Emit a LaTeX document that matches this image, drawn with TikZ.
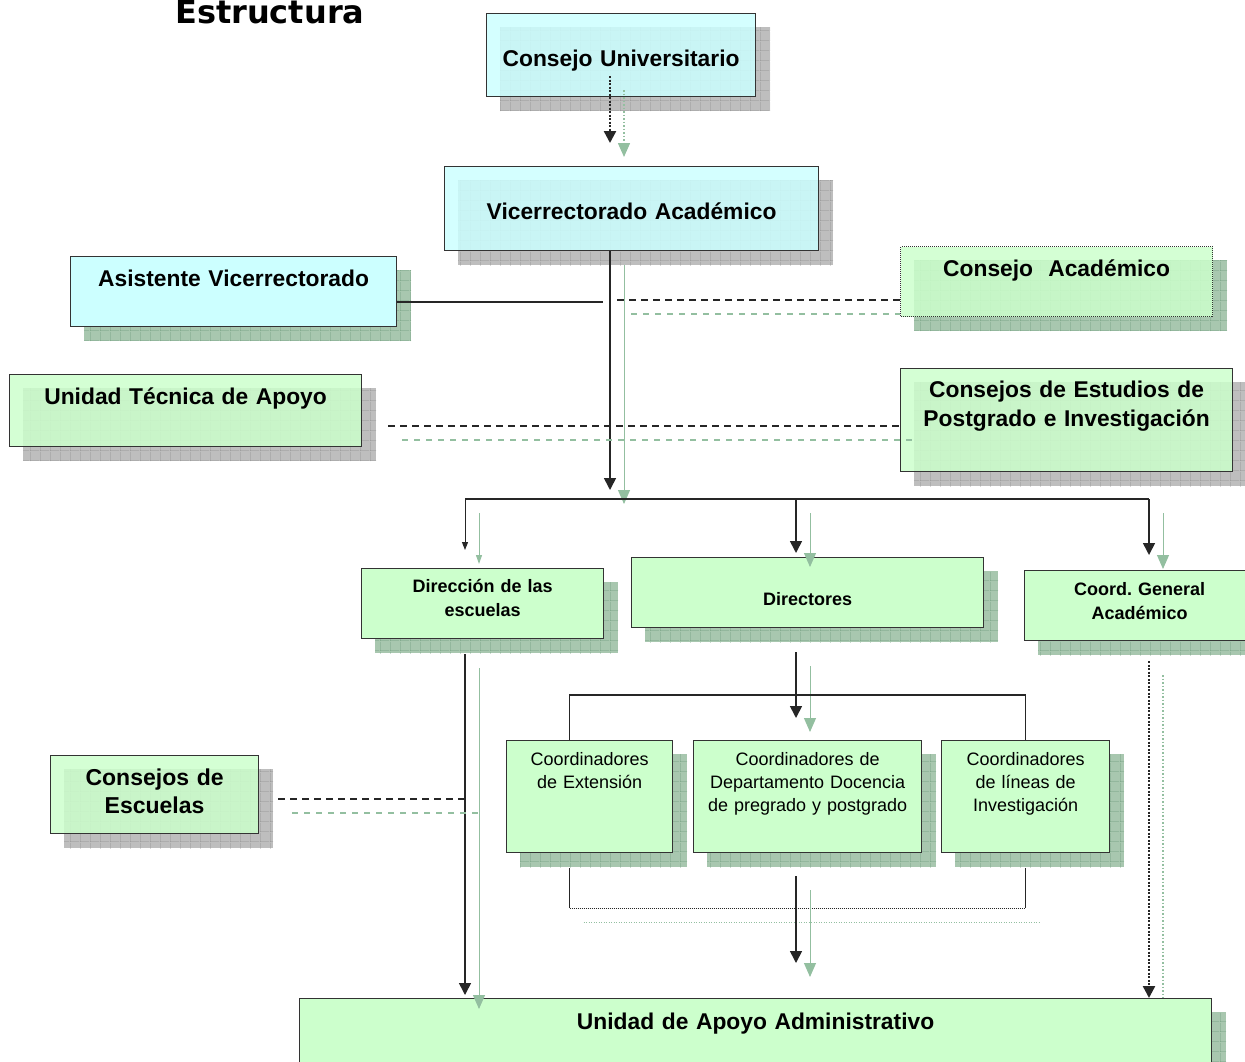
\documentclass[tikz,border=0pt]{standalone}
\usepackage{fontspec}
\setmainfont{Liberation Sans}
\newfontfamily\titlefont{DejaVu Sans}
\usetikzlibrary{arrows.meta}
\usetikzlibrary{backgrounds,patterns.meta}
\frenchspacing

\definecolor{cyanfill}{HTML}{CCFFFF}
\definecolor{greenfill}{HTML}{CCFFCC}
\definecolor{boxline}{HTML}{333333}
\definecolor{linecol}{HTML}{262626}
\definecolor{shadegray}{HTML}{BEBEBE}
\definecolor{shadegridgray}{HTML}{8E8E8E}
\definecolor{shadegreen}{HTML}{A8C7AF}
\definecolor{shadegridgreen}{HTML}{6F9C7C}
\definecolor{ghostgreen}{HTML}{93BFA0}

\tikzdeclarepattern{
  name=shadowgrid,
  type=uncolored,
  bounding box={(0pt,0pt) and (10pt,10pt)},
  tile size={(10pt,10pt)},
  code={
    \pgfsetlinewidth{0.8pt}
    \pgfpathmoveto{\pgfqpoint{0pt}{0pt}}
    \pgfpathlineto{\pgfqpoint{10pt}{0pt}}
    \pgfpathmoveto{\pgfqpoint{0pt}{0pt}}
    \pgfpathlineto{\pgfqpoint{0pt}{10pt}}
    \pgfusepath{stroke}
  }
}

\newcommand{\bigbf}{\fontsize{22.8}{29}\selectfont\bfseries}
\newcommand{\escbf}{\fontsize{23}{28}\selectfont\bfseries}
\newcommand{\midbf}{\fontsize{18}{24}\selectfont\bfseries}
\newcommand{\midrm}{\fontsize{18}{23}\selectfont}

\tikzset{
  unit/.style={draw=boxline, line width=1.2pt, anchor=north west,
    inner sep=0pt, align=center},
  cyanunit/.style={unit, fill=cyanfill},
  greenunit/.style={unit, fill=greenfill},
  seethru/.style={fill opacity=0.85, text opacity=1},
  grayshade/.style={preaction={fill=shadegray}, pattern=shadowgrid,
    pattern color=shadegridgray},
  greenshade/.style={preaction={fill=shadegreen}, pattern=shadowgrid,
    pattern color=shadegridgreen},
  link/.style={draw=linecol, line width=1.6pt},
  arrow/.style={link, -{Triangle[width=12pt,length=12pt]}},
  smallarrow/.style={draw=linecol, line width=1pt, -{Triangle[width=6pt,length=8pt]}},
  dotarrow/.style={draw=linecol, line width=2.4pt, dash pattern=on 2pt off 1.5pt,
    -{Triangle[width=12pt,length=12pt]}},
  dashlink/.style={draw=linecol, line width=1.3pt, dash pattern=on 7pt off 5pt},
  thindots/.style={draw=linecol, line width=0.9pt, dash pattern=on 1pt off 1pt},
  ghost/.style={draw=ghostgreen, line width=1pt,
    transform canvas={shift={(14pt,-14pt)}}},
  ghostarrow/.style={ghost, -{Triangle[width=12pt,length=14pt]}},
  ghostsmall/.style={ghost, -{Triangle[width=6pt,length=9pt]}},
  ghostdash/.style={ghost, line width=1.2pt, dash pattern=on 6pt off 6pt},
  ghostdots/.style={ghost, line width=1.5pt, dash pattern=on 1.5pt off 2pt},
}

\begin{document}
\begin{tikzpicture}[x=1pt,y=-1pt]
  \useasboundingbox (0,0) rectangle (1245,1061);

  \node[anchor=base west, inner sep=0pt,
  font=\titlefont\fontsize{32}{32}\selectfont\bfseries] (title) at (175,23) {Estructura};

  % upper units
  \node[cyanunit, seethru, text width=269pt, text height=53pt, text depth=30pt,
  font=\bigbf] (cu) at (486,13) {Consejo Universitario};
  \node[cyanunit, seethru, text width=374pt, text height=53pt, text depth=31pt,
  font=\bigbf] (vice) at (444,166) {Vicerrectorado Académico};
  \node[cyanunit, text width=326pt, text height=30pt, text depth=40pt,
  font=\bigbf] (asist) at (70,256) {Asistente Vicerrectorado};
  \node[greenunit, seethru, dash pattern=on 1pt off 1pt, text width=312pt,
  text height=30pt, text depth=40pt, font=\bigbf] (cacad) at (900,246) {Consejo\ \ Académico};
  \node[greenunit, seethru, text width=352pt, text height=30pt, text depth=42pt,
  font=\bigbf] (uta) at (9,374) {Unidad Técnica de Apoyo};
  \node[greenunit, seethru, text width=332pt, text height=29pt, text depth=74pt,
  font=\bigbf] (cepi) at (900,368) {Consejos de Estudios de\\Postgrado e Investigación};

  % middle units
  \node[greenunit, text width=242pt, text height=24pt, text depth=46pt,
  font=\midbf] (diresc) at (361,568) {Dirección de las\\escuelas};
  \node[greenunit, text width=352pt, text height=48pt, text depth=22pt,
  font=\midbf] (directores) at (631,557) {Directores};
  \node[greenunit, text width=230pt, text height=25pt, text depth=45pt,
  font=\midbf] (coordgen) at (1024,570) {Coord. General\\Académico};

  \node[greenunit, text width=166pt, text height=25pt, text depth=87pt,
  font=\midrm] (coordext) at (506,740) {Coordinadores\\de Extensión};
  \node[greenunit, text width=228pt, text height=25pt, text depth=87pt,
  font=\midrm] (coorddep) at (693,740) {Coordinadores de\\Departamento Docencia\\de pregrado y postgrado};
  \node[greenunit, text width=168pt, text height=25pt, text depth=87pt,
  font=\midrm] (coordlin) at (941,740) {Coordinadores\\de líneas de\\Investigación};

  \node[greenunit, seethru, text width=208pt, text height=30pt, text depth=48pt,
  font=\escbf] (cesc) at (50,755) {Consejos de\\Escuelas};
  \node[greenunit, text width=912pt, text height=31pt, text depth=51pt,
  font=\bigbf] (uaa) at (299,998) {Unidad de Apoyo Administrativo};

  % drop shadows
  \begin{scope}[on background layer]
    \foreach \n/\s in {cu/grayshade, vice/grayshade, asist/greenshade,
      cacad/greenshade, uta/grayshade, cepi/grayshade, diresc/greenshade,
      directores/greenshade, coordgen/greenshade, coordext/greenshade,
      coorddep/greenshade, coordlin/greenshade, cesc/grayshade, uaa/greenshade}
    \path[\s] ([shift={(14,14)}]\n.north west) rectangle ([shift={(14,14)}]\n.south east);
  \end{scope}

  \coordinate (trunk) at (610,499);
  \coordinate (busL) at (465,499);
  \coordinate (busM) at (796,499);
  \coordinate (busR) at (1149,499);
  \coordinate (asj) at (603,302);
  \coordinate (caj) at (617,300);
  \coordinate (utay) at (610,426);
  \coordinate (escj) at (465,799);
  \coordinate (brk) at (800,908);

  % connectors
  \draw[ghostarrow, line width=1.5pt, dash pattern=on 1.5pt off 2pt]
    ([yshift=21pt]cu.south -| trunk) -- ([yshift=23pt]vice.north -| trunk);
  \draw[dotarrow] ([yshift=21pt]cu.south -| trunk) -- ([yshift=23pt]vice.north -| trunk);
  \draw[ghostarrow, shorten >=9pt] (vice.south -| trunk) -- (trunk);
  \draw[arrow, shorten >=9pt] (vice.south -| trunk) -- (trunk);

  \draw[link] (asist.east |- asj) -- (asj);
  \draw[ghostdash, shorten >=14pt] (caj) -- (caj -| cacad.west);
  \draw[dashlink] (caj) -- (caj -| cacad.west);
  \draw[ghostdash, shorten <=26pt] (uta.east |- utay) -- (utay -| cepi.west);
  \draw[dashlink, shorten <=26pt] (uta.east |- utay) -- (utay -| cepi.west);

  \draw[link] (busL) -- (busR);
  \draw[ghostsmall, shorten >=18pt] (busL) -- (busL |- diresc.north);
  \draw[smallarrow, shorten >=18pt] (busL) -- (busL |- diresc.north);
  \draw[ghostarrow, shorten >=4pt] (busM) -- (busM |- directores.north);
  \draw[arrow, shorten >=4pt] (busM) -- (busM |- directores.north);
  \draw[ghostarrow, shorten >=15pt] (busR) -- (busR |- coordgen.north);
  \draw[arrow, shorten >=15pt] (busR) -- (busR |- coordgen.north);

  \draw[ghostarrow, shorten <=15pt, shorten >=3pt] (diresc.south -| busL) -- (uaa.north -| busL);
  \draw[arrow, shorten <=15pt, shorten >=3pt] (diresc.south -| busL) -- (uaa.north -| busL);
  \draw[ghostdash, shorten <=19pt] (cesc.east |- escj) -- (escj);
  \draw[dashlink, shorten <=19pt] (cesc.east |- escj) -- (escj);

  \draw[ghostarrow, shorten <=24pt, shorten >=22pt] (directores.south -| busM) -- (coorddep.north -| busM);
  \draw[arrow, shorten <=24pt, shorten >=22pt] (directores.south -| busM) -- (coorddep.north -| busM);
  \draw[link] ([xshift=-20pt]coordext.north) -- ++(0,-45) -| (coordlin.north);

  \draw[link] ([xshift=-20pt]coordext.south) ++(0,15) -- ([xshift=-20pt]coordext.south |- brk);
  \draw[link] (coordlin.south) ++(0,15) -- (coordlin.south |- brk);
  \draw[ghost, line width=0.9pt, dash pattern=on 1pt off 1.5pt]
    ([xshift=-20pt]coordext.south |- brk) -- (coordlin.south |- brk);
  \draw[thindots] ([xshift=-20pt]coordext.south |- brk) -- (coordlin.south |- brk);

  \draw[ghostarrow, shorten <=23pt, shorten >=35pt] (coorddep.south -| busM) -- (uaa.north -| busM);
  \draw[arrow, shorten <=23pt, shorten >=35pt] (coorddep.south -| busM) -- (uaa.north -| busM);
  \draw[ghostdots, shorten <=20pt, shorten >=14pt] (coordgen.south -| busR) -- (uaa.north -| busR);
  \draw[dotarrow, shorten <=20pt] (coordgen.south -| busR) -- (uaa.north -| busR);
\end{tikzpicture}
\end{document}
